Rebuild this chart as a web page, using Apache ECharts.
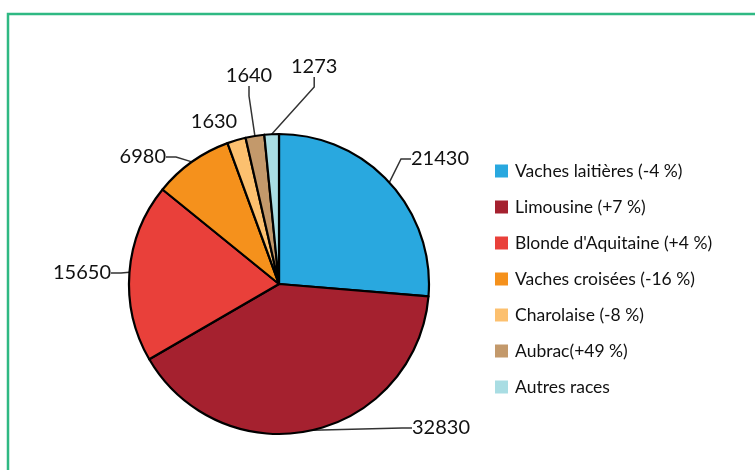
<!DOCTYPE html>
<html>
<head>
<meta charset="utf-8">
<script src="https://cdn.jsdelivr.net/npm/echarts@6/dist/echarts.min.js"></script>
<style>
  html, body { margin: 0; padding: 0; background: #fff; }
  #chart { width: 755px; height: 470px; }
</style>
</head>
<body>
<div id="chart"></div>
<script>
  // races bovines
  const categories = [
    'Vaches laitières (-4 %)',
    'Limousine (+7 %)',
    "Blonde d'Aquitaine (+4 %)",
    'Vaches croisées (-16 %)',
    'Charolaise (-8 %)',
    'Aubrac(+49 %)',
    'Autres races'
  ];
  const values = [21430, 32830, 15650, 6980, 1630, 1640, 1273];
  const colors = ['#29a8df', '#a5212f', '#e9403a', '#f5911c', '#fcc06f', '#c3996b', '#a9dde3'];

  // where each value label sits (x, y, align)
  const labelSpots = [
    [411, 159, 'left'],
    [412, 428, 'left'],
    [111, 273, 'right'],
    [166, 157, 'right'],
    [214, 122, 'center'],
    [249, 76, 'center'],
    [291, 67, 'left']
  ];

  const chart = echarts.init(document.getElementById('chart'));
  const option = {
    animation: false,
    color: colors,
    textStyle: { fontFamily: 'Lato' },
    graphic: [{
      type: 'rect',
      shape: { x: 8, y: 14, width: 800, height: 500 },
      style: { fill: 'none', stroke: '#2fb983', lineWidth: 2.5 },
      silent: true
    }],
    legend: {
      orient: 'vertical',
      left: 490,
      top: 157,
      itemWidth: 13,
      itemHeight: 13,
      itemGap: 18,
      icon: 'rect',
      data: categories,
      itemStyle: { borderWidth: 0 },
      textStyle: { fontSize: 17.5, color: '#111', fontFamily: 'Lato', padding: [0, 0, 0, 2] }
    },
    series: [{
      type: 'pie',
      center: [279, 284],
      radius: 150,
      startAngle: 90,
      clockwise: true,
      itemStyle: { borderColor: '#000', borderWidth: 2.2 },
      label: {
        show: true,
        position: 'outside',
        formatter: '{c}',
        fontSize: 20,
        color: '#111',
        fontFamily: 'Lato'
      },
      labelLine: {
        show: true,
        length: 12,
        length2: 10,
        lineStyle: { color: '#333', width: 1.5 }
      },
      labelLayout: function (params) {
        const s = labelSpots[params.dataIndex];
        return { x: s[0], y: s[1], align: s[2], verticalAlign: 'middle' };
      },
      data: categories.map(function (name, i) {
        const item = { name: name, value: values[i] };
        if (i === 4) {
          item.labelLine = { show: false };
        }
        return item;
      })
    }]
  };
  chart.setOption(option);
</script>
</body>
</html>
